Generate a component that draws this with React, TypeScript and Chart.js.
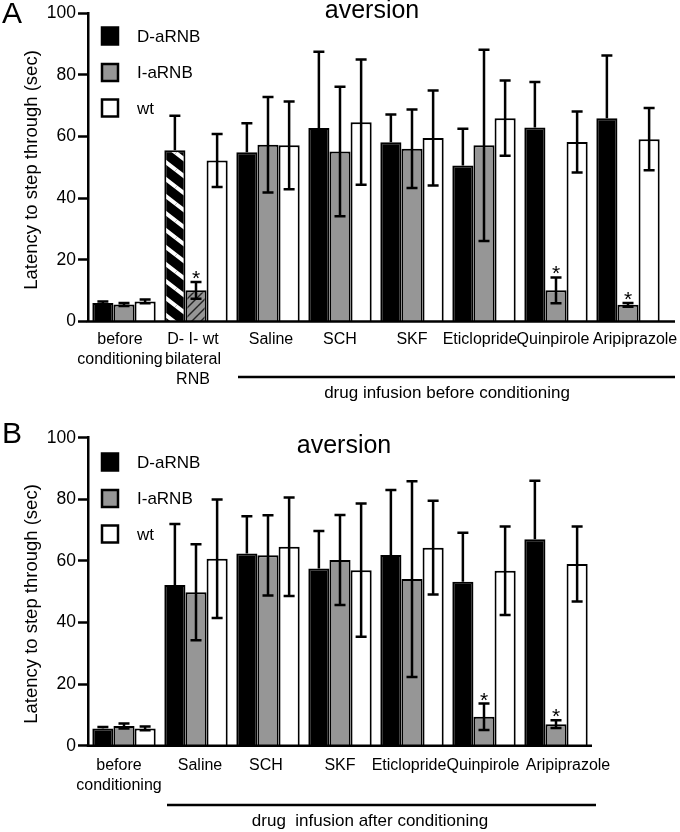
import React, { useEffect, useRef } from "react";
import { Chart, registerables } from "chart.js";
Chart.register(...registerables);

const FONT = '"Liberation Sans", Arial, Helvetica, sans-serif';
Chart.defaults.font.family = FONT;
Chart.defaults.font.size = 17;
Chart.defaults.color = "#000000";

// ---------- data ----------
const seriesNames = ["D-aRNB", "I-aRNB", "wt"];
const yTickValues = [0, 20, 40, 60, 80, 100];

// Panel A
const categoriesA = [
  ["before", "conditioning"],
  ["D- I- wt", "bilateral", "RNB"],
  "Saline",
  "SCH",
  "SKF",
  "Eticlopride",
  "Quinpirole",
  "Aripiprazole",
];
const dA = [6.0, 55.5, 54.9, 62.7, 58.1, 50.6, 62.9, 65.9];
const dAErr = [0.5, 11.2, 9.4, 24.7, 9.0, 11.9, 14.7, 20.3];
const iA = [5.5, 10.1, 57.3, 55.1, 56.0, 57.1, 10.1, 5.4];
const iAErr = [0.5, 2.7, 15.5, 21.0, 12.7, 31.0, 4.2, 0.6];
const wtA = [6.5, 52.2, 57.1, 64.6, 59.5, 65.9, 58.2, 59.1];
const wtAErr = [0.6, 8.6, 14.2, 20.3, 15.4, 12.2, 9.9, 10.1];
const sigA = [1, 6, 7]; // I-aRNB bars marked *
const bracketTextA = "drug infusion before conditioning";

// Panel B
const categoriesB = [
  ["before", "conditioning"],
  "Saline",
  "SCH",
  "SKF",
  "Eticlopride",
  "Quinpirole",
  "Aripiprazole",
];
const dB = [5.6, 52.2, 62.4, 57.5, 61.9, 53.2, 67.0];
const dBErr = [0.5, 19.8, 12.1, 12.2, 21.1, 15.9, 19.0];
const iB = [6.4, 49.8, 61.8, 60.3, 54.1, 9.4, 7.0];
const iBErr = [0.8, 15.6, 13.0, 14.6, 31.8, 4.3, 1.25];
const wtB = [5.6, 60.7, 64.6, 57.0, 64.3, 56.8, 59.0];
const wtBErr = [0.6, 19.2, 16.0, 21.6, 15.2, 14.4, 12.2];
const sigB = [5, 6];
const bracketTextB = "drug  infusion after conditioning";

const titleText = "aversion";
const yAxisTitle = "Latency to step through (sec)";

// ---------- styles ----------
const BLACK = "#000000";
const GRAY = "#969696";
const WHITE = "#ffffff";

function stripes(bg: string, fg: string, w: number, h: number, lw: number, back: boolean) {
  const c = document.createElement("canvas");
  c.width = w;
  c.height = h;
  const g = c.getContext("2d")!;
  g.fillStyle = bg;
  g.fillRect(0, 0, w, h);
  g.strokeStyle = fg;
  g.lineWidth = lw;
  for (let ox = -1; ox <= 1; ox++) {
    for (let oy = -1; oy <= 1; oy++) {
      g.beginPath();
      if (back) {
        g.moveTo(ox * w, oy * h);
        g.lineTo(ox * w + w, oy * h + h);
      } else {
        g.moveTo(ox * w, oy * h + h);
        g.lineTo(ox * w + w, oy * h);
      }
      g.stroke();
    }
  }
  return g.createPattern(c, "repeat")!;
}

type PanelCfg = {
  letter: string;
  labels: any[];
  d: number[];
  dErr: number[];
  i: number[];
  iErr: number[];
  w: number[];
  wErr: number[];
  sig: number[];
  hatchIndex: number;
  padTop: number;
  xHeight: number;
  padRight: number;
  axisEnd: number;
  tickPad: number;
  labelNudge: number[];
  titleX: number;
  titleY: number;
  letterY: number;
  ylabelY: number;
  legendY: number[];
  bracket: { x1: number; x2: number; y: number; text: string; tx: number; ty: number };
};

const panelA: PanelCfg = {
  letter: "A",
  labels: categoriesA,
  d: dA, dErr: dAErr, i: iA, iErr: iAErr, w: wtA, wErr: wtAErr,
  sig: sigA,
  hatchIndex: 1,
  padTop: 13,
  xHeight: 94.5,
  padRight: 16,
  axisEnd: 675,
  tickPad: 8,
  labelNudge: [-4, -3, 3, 0, 0, -4, -3, 7],
  titleX: 372,
  titleY: 11,
  letterY: 15,
  ylabelY: 170,
  legendY: [36, 72.5, 108],
  bracket: { x1: 238, x2: 675, y: 377, text: bracketTextA, tx: 447, ty: 393 },
};

const panelB: PanelCfg = {
  letter: "B",
  labels: categoriesB,
  d: dB, dErr: dBErr, i: iB, iErr: iBErr, w: wtB, wErr: wtBErr,
  sig: sigB,
  hatchIndex: -1,
  padTop: 21.7,
  xHeight: 86.3,
  padRight: 88,
  axisEnd: 592,
  tickPad: 10,
  labelNudge: [-5, 4, -2, 0, -3, -1, 12],
  titleX: 344,
  titleY: 30,
  letterY: 19,
  ylabelY: 188,
  legendY: [46, 82.5, 118],
  bracket: { x1: 167, x2: 596, y: 389, text: bracketTextB, tx: 370, ty: 405 },
};

function Panel({ cfg }: { cfg: PanelCfg }) {
  const ref = useRef<HTMLCanvasElement>(null);
  useEffect(() => {
    const canvas = ref.current!;
    const dHatch = stripes(BLACK, WHITE, 22, 17, 4, true);
    const iHatch = stripes(GRAY, "#222", 9, 9, 1.4, false);
    const dColors = cfg.d.map((_, j) => (j === cfg.hatchIndex ? dHatch : BLACK));
    const iColors = cfg.i.map((_, j) => (j === cfg.hatchIndex ? iHatch : GRAY));

    const overlay = {
      id: "overlay" + cfg.letter,
      beforeDraw(chart: any) {
        // small horizontal nudges of the library's own x tick labels
        const xs = chart.scales.x;
        if (xs && xs.getLabelItems) {
          const items = xs.getLabelItems(chart.chartArea);
          items.forEach((it: any, j: number) => {
            if (it && it.options && it.options.translation && !it._nudged) {
              it.options.translation[0] += cfg.labelNudge[j] || 0;
              it._nudged = true;
            }
          });
        }
      },
      afterDatasetsDraw(chart: any) {
        const ctx = chart.ctx as CanvasRenderingContext2D;
        const ys = chart.scales.y;
        const area = chart.chartArea;
        ctx.save();
        ctx.strokeStyle = BLACK;
        ctx.lineWidth = 2.5;
        const vals = [cfg.d, cfg.i, cfg.w];
        const errs = [cfg.dErr, cfg.iErr, cfg.wErr];
        const cap = 5.5;
        for (let s = 0; s < 3; s++) {
          const meta = chart.getDatasetMeta(s);
          meta.data.forEach((el: any, j: number) => {
            const v = vals[s][j];
            const e = errs[s][j];
            const x = el.x;
            const yt = ys.getPixelForValue(v + e);
            const ym = ys.getPixelForValue(v);
            const yb = ys.getPixelForValue(v - e);
            ctx.beginPath();
            ctx.moveTo(x, yt);
            ctx.lineTo(x, s === 0 ? ym : yb);
            ctx.moveTo(x - cap, yt);
            ctx.lineTo(x + cap, yt);
            if (s !== 0) {
              ctx.moveTo(x - cap, yb);
              ctx.lineTo(x + cap, yb);
            }
            ctx.stroke();
          });
        }
        // asterisks
        const metaI = chart.getDatasetMeta(1);
        ctx.fillStyle = BLACK;
        ctx.font = `21px ${FONT}`;
        ctx.textAlign = "center";
        ctx.textBaseline = "alphabetic";
        cfg.sig.forEach((j) => {
          const el = metaI.data[j];
          const yt = ys.getPixelForValue(cfg.i[j] + cfg.iErr[j]);
          ctx.fillText("*", el.x, yt + 3);
        });
        // x axis line
        ctx.beginPath();
        ctx.moveTo(area.left - 1.25, area.bottom);
        ctx.lineTo(cfg.axisEnd, area.bottom);
        ctx.stroke();
        ctx.restore();
      },
      afterDraw(chart: any) {
        const ctx = chart.ctx as CanvasRenderingContext2D;
        ctx.save();
        ctx.fillStyle = BLACK;
        // panel letter
        ctx.font = `30px ${FONT}`;
        ctx.textAlign = "left";
        ctx.textBaseline = "middle";
        ctx.fillText(cfg.letter, 2, cfg.letterY);
        // title
        ctx.font = `25px ${FONT}`;
        ctx.textAlign = "center";
        ctx.fillText(titleText, cfg.titleX, cfg.titleY);
        // y axis title
        ctx.save();
        ctx.translate(32, cfg.ylabelY);
        ctx.rotate(-Math.PI / 2);
        ctx.font = `18.5px ${FONT}`;
        ctx.textAlign = "center";
        ctx.textBaseline = "middle";
        ctx.fillText(yAxisTitle, 0, 0);
        ctx.restore();
        // legend
        const fills = [BLACK, GRAY, WHITE];
        ctx.font = `17px ${FONT}`;
        ctx.textAlign = "left";
        ctx.textBaseline = "middle";
        ctx.lineWidth = 2.5;
        ctx.strokeStyle = BLACK;
        seriesNames.forEach((name, k) => {
          const cy = cfg.legendY[k];
          ctx.fillStyle = fills[k];
          ctx.fillRect(102, cy - 8.5, 16, 17);
          ctx.strokeRect(102, cy - 8.5, 16, 17);
          ctx.fillStyle = BLACK;
          ctx.fillText(name, 137, cy + 1);
        });
        // bracket
        const b = cfg.bracket;
        ctx.beginPath();
        ctx.moveTo(b.x1, b.y);
        ctx.lineTo(b.x2, b.y);
        ctx.stroke();
        ctx.font = `17px ${FONT}`;
        ctx.textAlign = "center";
        ctx.textBaseline = "middle";
        ctx.fillText(b.text, b.tx, b.ty);
        ctx.restore();
      },
    };

    const chart = new Chart(canvas, {
      type: "bar",
      data: {
        labels: cfg.labels,
        datasets: [
          { label: seriesNames[0], data: cfg.d, backgroundColor: dColors as any, borderColor: BLACK, borderWidth: 2 },
          { label: seriesNames[1], data: cfg.i, backgroundColor: iColors as any, borderColor: BLACK, borderWidth: 2 },
          { label: seriesNames[2], data: cfg.w, backgroundColor: WHITE, borderColor: BLACK, borderWidth: 2 },
        ],
      },
      options: {
        responsive: false,
        animation: false,
        events: [],
        layout: { padding: { top: cfg.padTop, bottom: 0, left: 0, right: cfg.padRight } },
        datasets: { bar: { categoryPercentage: 0.88, barPercentage: 1 } },
        plugins: { legend: { display: false }, tooltip: { enabled: false }, title: { display: false } },
        scales: {
          x: {
            type: "category",
            offset: true,
            grid: { display: false, drawTicks: false },
            border: { display: false },
            ticks: {
              autoSkip: false,
              maxRotation: 0,
              minRotation: 0,
              color: BLACK,
              padding: cfg.tickPad,
              font: { family: FONT, size: 16, lineHeight: 1.25 },
            },
            afterFit: (s: any) => {
              s.height = cfg.xHeight;
            },
          },
          y: {
            type: "linear",
            min: 0,
            max: 100,
            afterBuildTicks: (s: any) => {
              s.ticks = yTickValues.map((v) => ({ value: v }));
            },
            grid: {
              display: true,
              drawOnChartArea: false,
              drawTicks: true,
              tickLength: 10,
              tickColor: BLACK,
              tickWidth: 2.5,
            },
            border: { display: true, color: BLACK, width: 2.5 },
            ticks: {
              color: BLACK,
              padding: 2,
              font: { family: FONT, size: 17.5 },
            },
            afterFit: (s: any) => {
              s.width = 88;
            },
          },
        },
      },
      plugins: [overlay],
    });
    return () => chart.destroy();
  }, [cfg]);
  return <canvas ref={ref} width={680} height={416} style={{ display: "block", width: 680, height: 416 }} />;
}

export default function App() {
  return (
    <div style={{ position: "absolute", left: 0, top: 0, width: 680, height: 832, background: "#fff" }}>
      <Panel cfg={panelA} />
      <Panel cfg={panelB} />
    </div>
  );
}
